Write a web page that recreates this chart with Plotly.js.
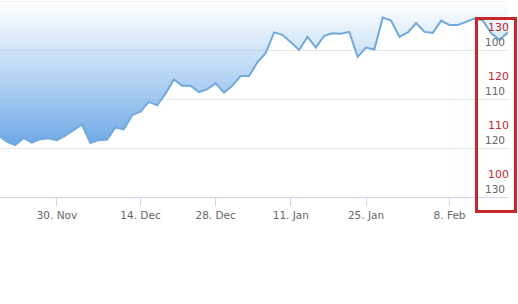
<!DOCTYPE html>
<html>
<head>
<meta charset="utf-8">
<script src="https://cdn.plot.ly/plotly-3.0.1.min.js"></script>
<style>
  html, body { margin: 0; padding: 0; background: #ffffff; }
  #chart { width: 518px; height: 304px; }
</style>
</head>
<body>
<div id="chart"></div>
<script>
// Trading days (ordinal x axis)
const dates = [
  '2015-11-18','2015-11-19','2015-11-20','2015-11-23','2015-11-24','2015-11-25','2015-11-27',
  '2015-11-30','2015-12-01','2015-12-02','2015-12-03','2015-12-04',
  '2015-12-07','2015-12-08','2015-12-09','2015-12-10','2015-12-11',
  '2015-12-14','2015-12-15','2015-12-16','2015-12-17','2015-12-18',
  '2015-12-21','2015-12-22','2015-12-23','2015-12-24',
  '2015-12-28','2015-12-29','2015-12-30','2015-12-31',
  '2016-01-04','2016-01-05','2016-01-06','2016-01-07','2016-01-08',
  '2016-01-11','2016-01-12','2016-01-13','2016-01-14','2016-01-15',
  '2016-01-19','2016-01-20','2016-01-21','2016-01-22',
  '2016-01-25','2016-01-26','2016-01-27','2016-01-28','2016-01-29',
  '2016-02-01','2016-02-02','2016-02-03','2016-02-04','2016-02-05',
  '2016-02-08','2016-02-09','2016-02-10','2016-02-11','2016-02-12',
  '2016-02-16','2016-02-17','2016-02-18'
];
const closes = [
  117.4, 118.7, 119.4, 118.0, 118.9, 118.2, 118.0,
  118.4, 117.5, 116.3, 115.2, 119.0,
  118.4, 118.3, 115.8, 116.2, 113.3,
  112.6, 110.6, 111.3, 108.9, 106.0,
  107.3, 107.3, 108.6, 108.0,
  106.8, 108.7, 107.3, 105.3,
  105.3, 102.5, 100.6, 96.4, 96.9,
  98.4, 100.0, 97.3, 99.5, 97.1,
  96.6, 96.7, 96.3, 101.4,
  99.5, 99.9, 93.4, 94.0, 97.3,
  96.4, 94.5, 96.3, 96.5, 94.0,
  94.9, 94.9, 94.2, 93.6, 94.0,
  96.6, 97.9, 96.4
];
const tickDates = ['2015-11-30','2015-12-14','2015-12-28','2016-01-11','2016-01-25','2016-02-08'];
const tickText  = ['30. Nov','14. Dec','28. Dec','11. Jan','25. Jan','8. Feb'];
const yTickVals = [90, 100, 110, 120, 130];
const yTickText = ['', '100', '110', '120', '130'];
const redLabelVals = [100, 110, 120, 130];
const redLabelText = ['130', '120', '110', '100'];

const xIdx = dates.map((d, i) => i);
const tickVals = tickDates.map(d => dates.indexOf(d));

const W = 508, H = 196, T = 1; // plot area in px
const px = v => v / W;
const py = v => (T + H - v) / H;

const trace = {
  type: 'scatter',
  mode: 'lines',
  x: xIdx,
  y: closes,
  line: { color: '#72a9dd', width: 2 },
  fill: 'tozeroy',
  fillgradient: {
    type: 'vertical',
    start: 90,
    stop: Math.max.apply(null, closes),
    colorscale: [[0, 'rgba(124,181,236,0)'], [1, 'rgba(110,168,230,1)']]
  },
  hoverinfo: 'skip'
};

const layout = {
  width: 518, height: 304,
  margin: { l: 0, r: 518 - W, t: T, b: 304 - T - H, pad: 0 },
  paper_bgcolor: '#ffffff',
  plot_bgcolor: '#ffffff',
  showlegend: false,
  font: { family: 'DejaVu Sans, sans-serif', size: 10.5, color: '#666666' },
  xaxis: {
    range: [xIdx[xIdx.length - 1] - W / 8.353, xIdx[xIdx.length - 1]],
    tickmode: 'array', tickvals: tickVals, ticktext: tickText,
    showgrid: false, zeroline: false,
    showline: true, linecolor: '#ccd6eb', linewidth: 1,
    ticks: 'outside', ticklen: 8, tickcolor: '#ccd6eb', tickwidth: 1,
    tickfont: { family: 'DejaVu Sans, sans-serif', size: 10.5, color: '#666666' },
    fixedrange: true
  },
  yaxis: {
    side: 'right',
    range: [130, 90],
    tickmode: 'array', tickvals: yTickVals, ticktext: yTickText,
    showgrid: true, gridcolor: '#e6e6e6', gridwidth: 1,
    zeroline: false, showline: false, ticks: '',
    ticklabelposition: 'inside top',
    tickfont: { family: 'DejaVu Sans, sans-serif', size: 10.5, color: '#666666' },
    fixedrange: true
  },
  shapes: [
    {
      type: 'line', xref: 'paper', yref: 'y',
      x0: 0, x1: 1, y0: yTickVals[0], y1: yTickVals[0],
      line: { color: '#e6e6e6', width: 1 },
      layer: 'below'
    },
    {
      type: 'rect', xref: 'paper', yref: 'paper',
      x0: px(476.5), x1: px(515.5), y0: py(211.5), y1: py(18.5),
      line: { color: '#c9252c', width: 3 },
      fillcolor: 'rgba(0,0,0,0)',
      layer: 'above'
    }
  ],
  annotations: redLabelVals.map((v, i) => ({
    xref: 'paper', yref: 'y',
    x: px(511), y: v - 4.5,
    xanchor: 'right', yanchor: 'middle',
    text: redLabelText[i],
    showarrow: false,
    font: { family: 'DejaVu Sans, sans-serif', size: 11, color: '#c0282f' }
  }))
};

Plotly.newPlot('chart', [trace], layout, { displayModeBar: false, staticPlot: true });
</script>
</body>
</html>
